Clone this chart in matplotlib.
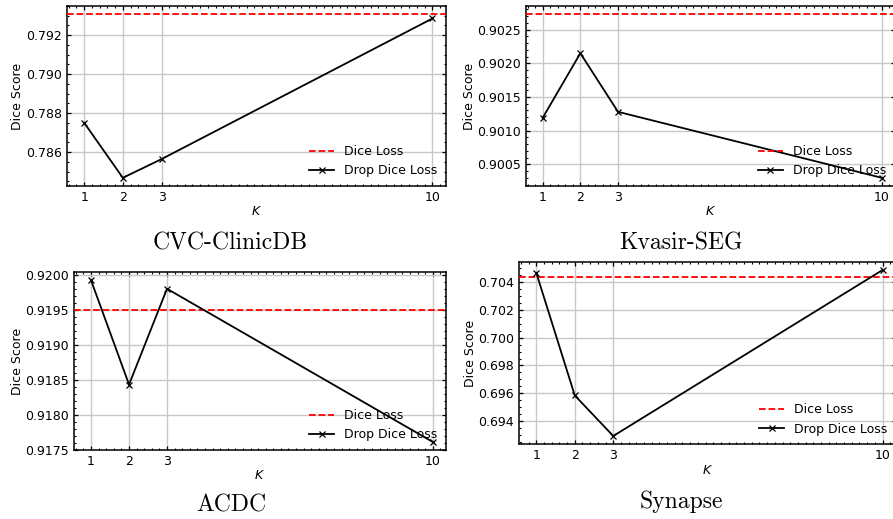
import matplotlib
matplotlib.use('Agg')
import matplotlib.pyplot as plt
from matplotlib.ticker import AutoMinorLocator, FixedLocator, ScalarFormatter

# ---- data ----
K = [1, 2, 3, 10]
titles = ['CVC-ClinicDB', 'Kvasir-SEG', 'ACDC', 'Synapse']
drop_cvc = [0.78751, 0.78468, 0.78564, 0.79286]
drop_kvasir = [0.90119, 0.90215, 0.90128, 0.90030]
drop_acdc = [0.91992, 0.91843, 0.91980, 0.91761]
drop_synapse = [0.70467, 0.69584, 0.69292, 0.70488]
dice_cvc = 0.79308
dice_kvasir = 0.90273
dice_acdc = 0.91949
dice_synapse = 0.70436

drops = [drop_cvc, drop_kvasir, drop_acdc, drop_synapse]
dices = [dice_cvc, dice_kvasir, dice_acdc, dice_synapse]

W, H = 893, 519
fig = plt.figure(figsize=(W / 100, H / 100), dpi=100)

# pixel boxes: left, right, top, bottom
boxes = [(66.7, 446, 6, 186), (525.7, 895, 6, 186),
         (74, 446, 272.3, 450), (519, 896, 261.7, 444.3)]
title_pos = [(230, 243), (681, 243), (231, 505), (681, 502)]

plt.rcParams['font.size'] = 9

for i in range(4):
    l, r, t, b = boxes[i]
    ax = fig.add_axes([l / W, 1 - b / H, (r - l) / W, (b - t) / H])
    ax.axhline(dices[i], color='red', ls='--', lw=1.3, label='Dice Loss', zorder=3)
    ax.plot(K, drops[i], color='black', marker='x', ms=4, mew=0.9, lw=1.3,
            label='Drop Dice Loss', zorder=4)
    ax.set_xlim(0.55, 10.35)
    ax.xaxis.set_major_locator(FixedLocator(K))
    ax.xaxis.set_minor_locator(AutoMinorLocator(5))
    ax.yaxis.set_minor_locator(AutoMinorLocator())
    fmt = ScalarFormatter(useOffset=False)
    ax.yaxis.set_major_formatter(fmt)
    ax.tick_params(which='both', direction='in', top=True, right=True, labelsize=9)
    ax.tick_params(which='major', length=3, width=0.9)
    ax.tick_params(which='minor', length=1.6, width=0.8)
    for s in ax.spines.values():
        s.set_linewidth(1.1)
    ax.grid(True, which='major', color='#c8c8c8', lw=1.0)
    ax.set_axisbelow(True)
    ax.set_xlabel('$K$', fontsize=9, labelpad=1)
    ax.set_ylabel('Dice Score', fontsize=9, labelpad=1)
    ax.legend(loc='lower right', frameon=False, fontsize=9, handlelength=2.0,
              borderaxespad=0.3)
    tx, ty = title_pos[i]
    fig.text(tx / W, 1 - ty / H, titles[i], family='cmr10', fontsize=17,
             ha='center', va='center')

fig.savefig('out.png', dpi=100)
